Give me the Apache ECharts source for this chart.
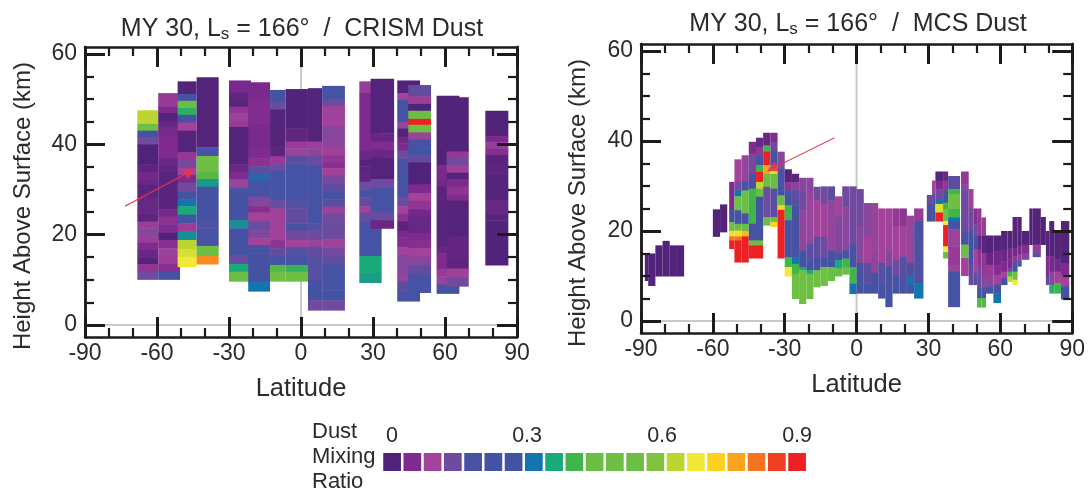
<!DOCTYPE html>
<html><head><meta charset="utf-8">
<style>html,body{margin:0;padding:0;background:#fff}#c{width:1088px;height:493px}canvas{filter:blur(0.45px)}</style>
<script src="https://cdn.jsdelivr.net/npm/echarts@6/dist/echarts.min.js"></script>
</head><body><div id="c"></div>
<script>
// Colour bins of the legend, and their mixing ratio values
const legendColors=['#4f2379','#7f2a8e','#a3429a','#6f4a9f','#4752a3','#4552a3','#4154a3','#1474ad','#19a97b','#3fb54a','#6abd45','#6fbf44','#6dbe45','#81c341','#bdd531','#f1e837','#fdd022','#faa31f','#f57322','#f04023','#ed2024'];
const binWidth=0.045;
const legendTicks=[0,0.3,0.6,0.9];
const majorKm=[0,20,40,60];
const minorKm=[5,10,15,25,30,35,45,50,55];
// Each column: [latLo, latHi, topKm, [[bottomKm, dust level in bins], ...]]
const crismColumns=[
[-68.2,-59.5,47.5,[[44.5,14],[43,11],[41.5,4.5],[40,3],[35.6,0],[33.9,.3],[32.5,.7],[31,.6],[28.4,.2],[24.7,.5],[22.9,.3],[21.4,1.8],[19.6,2.6],[18.2,1.8],[16.6,1],[15,.5],[13.5,.1],[11.8,1.5],[10.1,3]]],
[-59.5,-50.4,51.3,[[48.3,1.7],[46.9,1],[45.2,.1],[43.8,.5],[42.1,.8],[38.7,1],[37.1,1],[35.6,.6],[34.2,.4],[25.6,.2],[24,.8],[22.3,1.3],[20.4,1],[18.8,.05],[17,1.2],[15.3,2.2],[13.5,1.8],[11.8,1.2],[10.1,5]]],
[-51.4,-43.5,53.9,[[51.1,.1],[49.6,4.6],[48,10],[46.5,8.5],[44.8,4],[43,2],[38.2,.1],[36.5,1.6],[34.8,2.8],[33.2,2],[31.5,1],[29.5,3],[27.8,4.5],[26.3,7],[24.4,8],[22.5,4.5],[20.7,1.8],[18.8,7.5],[16.8,14],[15.1,14.5],[12.9,15]]],
[-43.5,-34.3,54.8,[[39.3,.1],[37.4,4.5],[33.9,11],[32.3,9.5],[30.6,7.7],[22.9,4.8],[21.4,3.7],[17.5,4.2],[15.3,11],[13.5,17.5]]],
[-30,-20.8,54.1,[[51.4,.9],[50,.4],[48.3,.2],[46.9,1.5],[45.2,2.2],[43.8,1.7],[35.6,.1],[33.9,.6],[32.3,1],[30.3,2.2],[28.4,4],[23.2,4.8],[21.4,7.5],[15.5,4.8],[13.5,3.2],[11.8,8],[9.7,10]]],
[-22,-12.9,53.7,[[49.8,.9],[44.6,1.1],[38.7,.9],[36.9,1],[35.1,1.3],[33.4,3.6],[31.7,6.5],[28.4,4.5],[26.3,2.7],[24.9,1.2],[22.9,2],[21,3.2],[19.2,2.7],[17.7,2],[15.9,4.2],[9.6,4.8],[7.5,7]]],
[-12.9,-6.4,52,[[49.4,4.5],[47.7,3.2],[39.5,.1],[37.3,.3],[35.6,1.7],[34.2,3],[27.7,4.5],[25.8,3.2],[18.8,1.9],[17,1.4],[15.3,3.3],[13.3,4.5],[11.8,9.5],[9.7,11]]],
[-6.4,2.9,52.2,[[43.5,.05],[40.6,.4],[39.1,1.7],[37.4,2.2],[35.8,3.5],[27.7,4.6],[25.8,3.7],[22.5,3.3],[20.9,4.2],[18.8,3],[17.3,2],[15.1,3.7],[13.3,4.5],[11.8,8.7],[9.7,10.5]]],
[2.9,8.8,52.4,[[40.6,.1],[39.1,1.8],[37.6,2.4],[35.4,3.2],[22.5,4.6],[20.7,3.6],[18.8,3],[17.3,2.2],[15.3,3.3],[10,3.6],[5.5,4.8],[3.3,3]]],
[8.8,18.3,52.9,[[50,4.6],[48.5,3.2],[45.8,2.1],[43.9,2],[41,2.6],[39.5,2.5],[37.6,1.9],[36.2,1.5],[34.7,1.2],[33,1.9],[31.2,2.8],[29.5,3.5],[27.8,4.5],[26.2,3.5],[24.6,2.2],[22.7,3],[20.9,3.2],[19,3],[17.2,2.2],[15.3,2.9],[13.7,3.3],[7.7,4.7],[5.5,5.5],[3.3,3]]],
[24.3,33.6,53.9,[[51.3,1.7],[38.7,1],[36.7,.5],[35.1,.1],[33.4,.3],[31.7,.4],[30,3],[28.3,4.5],[26.3,3.3],[24.9,2],[22.9,3.2],[15.3,4.6],[11.4,8],[9.4,7.8]]],
[29,38.8,54.5,[[42.4,.1],[40.6,.5],[38.9,1.1],[37.1,.6],[32.3,.1],[30.3,3],[25.1,4.6],[23.2,3.2],[21.4,.6]]],
[40.1,49.6,54.1,[[51.3,.05],[49.8,2],[45,4.6],[43.5,2.2],[41.7,.1],[40.2,.7],[38.6,1],[36.9,3],[28.4,4.6],[26.3,3.2],[24.6,2],[22.9,1.3],[20.9,.2],[19.4,.9],[17.3,1.1],[15.5,2],[11.4,2.6],[9.6,2.3],[7.5,3.5],[5.3,4.6]]],
[44.7,54.2,53.1,[[50.6,3.3],[48.9,1.8],[47.4,0],[45.6,10.5],[44.3,20],[42.6,11],[41,2.2],[39.3,4],[37.6,6],[36,3.3],[31.1,0],[29.2,1],[27.5,2],[25.6,1.5],[24,.7],[20.4,.5],[18.8,1],[17,1.2],[15.1,2],[13.1,2.6],[11.2,3.3],[7.2,4.6]]],
[56.5,66,50.7,[[35.4,.05],[32.5,.9],[30.6,.7],[17.3,.2],[15.9,.5],[12.5,1],[10.8,1.7],[8.9,2.3],[7,4.6]]],
[60.7,69.9,50.4,[[38.4,.05],[37.1,1.6],[35.4,3],[33.7,1.9],[32.3,.1],[30.6,1],[28.8,1.4],[27.5,1],[19.6,.1],[14.4,.4],[12.5,.3],[10.6,1.9],[8.6,3]]],
[76.8,86.4,47.4,[[41.8,.05],[40.6,.9],[39.1,1.7],[37.6,1.2],[35.4,.2],[33.6,.3],[27.7,.1],[24.7,.5],[23.2,.2],[13.3,.05]]]
];
const mcsColumns=[
[-88.4,-87,15,[[9,.05]]],
[-87,-84,15,[[7.9,.05]]],
[-84,-81,16.8,[[10,.05]]],
[-81,-78,17.8,[[10,.05]]],
[-78,-75,16.8,[[10,.05]]],
[-75,-72,16.8,[[10,.05]]],
[-60,-57,24.8,[[18.8,.1]]],
[-57,-54,25.9,[[19.8,.1]]],
[-53.2,-51,30.9,[[24.6,1],[22,6],[20,11],[18.8,15.5],[17.9,18],[16.1,20]]],
[-51,-48,35.9,[[30.9,2],[29,3],[27.7,7],[25,11.5],[24.6,10],[21.6,4.5],[20.1,10],[18.8,15.5],[17.9,18],[13.1,20]]],
[-48,-45,36.8,[[30.9,2.3],[29,4.5],[25,12],[23.9,10],[21.6,4.5],[20,10],[18.8,16.5],[13.1,20]]],
[-45,-42,39.8,[[37.2,1],[32.7,2.8],[29.4,4.5],[21.6,9],[17.9,4.7],[16.8,10],[14,20]]],
[-42,-39,40.7,[[38.7,.5],[36.8,1.5],[34.6,4.5],[33.1,9],[30.9,20],[29.4,14],[27.6,10],[17.9,4.3],[16.8,10],[14,20]]],
[-39,-36,41.8,[[39,.5],[37.6,9],[34.6,20],[32.7,17],[29.8,11],[23.1,3],[21.3,10]]],
[-36,-33,41.8,[[39.8,1],[37.6,3],[34.6,5],[33.9,9],[32.7,15],[29.4,10],[23.1,3.5],[22,10],[21,16]]],
[-33,-30,37.6,[[33.9,2.5],[29,4.5],[27.9,6],[25.7,10],[24.7,16],[14,20]]],
[-30,-27,33.7,[[30.9,.2],[29,1.5],[25.7,4.5],[22.4,9],[14.2,4.5],[12,9],[10,15]]],
[-27,-24,32.7,[[30.9,.3],[29,2.5],[25.7,3.5],[23.1,4.8],[14.2,4],[12.7,7],[10.5,9],[5,11]]],
[-24,-21,31.8,[[29,2.5],[24.6,3],[15.7,2.4],[12,4.5],[11.3,8],[3.9,11]]],
[-21,-18,31.8,[[28.3,2.5],[22.4,2.2],[17.2,2.2],[13.5,3.5],[11.3,5],[10.5,8],[5,12]]],
[-18,-15,29.8,[[26.8,3],[18.7,2],[14.2,3.5],[11.3,5],[7.6,11]]],
[-15,-12,29.9,[[26.1,3],[18.7,2],[14.2,3],[12,4.7],[7.9,11]]],
[-12,-9,29.9,[[26.8,3.5],[15.7,2.3],[13.5,4],[12,6],[9,10]]],
[-9,-6,27.7,[[23.1,2],[15,2.7],[13.5,4.5],[11.7,8],[10,10]]],
[-6,-3,29.9,[[25.3,3],[15.7,2.5],[13.9,4.5],[11.9,9],[10.4,10]]],
[-3,0,29.9,[[17.2,3],[12,4.5],[8.3,9],[6.1,7]]],
[0,3,29.3,[[21.1,3],[12.9,2.5],[8.4,4],[6.2,4.8]]],
[3,6,26.2,[[18.9,2.5],[12.9,2],[8.4,3.5],[6.2,4.6]]],
[6,9,26.2,[[15.9,2.2],[10.7,2.4],[6.9,4],[6.2,4.6]]],
[9,12,25,[[17.4,2],[12.9,2],[8.4,3.6],[5.1,4.6]]],
[12,15,25,[[15.9,2],[12.2,2.6],[8.4,4],[3.2,4.6]]],
[15,18,25,[[21.1,1.6],[13.7,2],[9.9,3],[6.2,4.6]]],
[18,21,25,[[21.1,1.4],[14.4,2],[9.9,3.5],[6.2,4.6]]],
[21,24,23.4,[[12.9,2.2],[9.9,3.8],[8.1,7],[6.2,4.6]]],
[24,27.9,25,[[22.2,1.7],[18.9,4],[8.4,3.8],[5.1,7]]],
[29.3,31.5,28,[[26,3],[22.2,4.5]]],
[31.5,32.9,31.2,[[28.2,2],[26,3.5],[24.1,4.8],[22.2,6]]],
[32.9,36.1,33.2,[[31.2,.2],[29.3,1],[27.1,3],[26,7],[24.1,14.5],[22.2,20]]],
[36.1,38.2,33.2,[[31.2,.5],[29,1.5],[26.3,5],[24.9,9],[22.2,12],[21.3,15],[16.6,20],[15.3,15],[14,10]]],
[38.2,43.2,32.2,[[29.3,3.5],[28.2,9],[24.9,11],[23,9],[22.2,7],[20.4,4.5],[16.6,2.2],[12.5,1.7],[11,2.2],[3.2,4.6]]],
[43.6,46.8,33.2,[[30.4,1.6],[29.3,2.5],[19.6,3],[17,4.3],[14,10],[10.1,2]]],
[46.8,48.8,29.3,[[24.9,2],[20.4,3],[17.4,4.5],[15.1,6],[12.2,4],[8.1,3.3]]],
[48.8,50.3,25,[[21.5,1.2],[18.9,3],[15.9,4.5],[10.7,2],[8.1,3.5]]],
[50.3,52.1,25,[[18.9,1.6],[15.9,.5],[12.2,1.4],[7.3,3],[5.1,4.6],[3.1,9.5]]],
[52.1,54,23,[[18.9,1.7],[15.1,.2],[9.9,1.5],[7.3,2.6],[5.1,4.6],[3.1,9.5]]],
[54,57.1,19,[[15.1,.1],[12.5,.6],[9.9,1.7],[7.7,2.5],[6.2,4.6]]],
[57.1,60.3,19,[[15.5,.1],[12.5,.7],[10.3,1.2],[8.1,2],[6.2,4.5],[4.1,7]]],
[60.3,63,20,[[15.9,.1],[13.3,.6],[11,1],[9.6,2],[8.1,4.4]]],
[63,65.1,20,[[16.3,.1],[13.7,.8],[11.8,1],[11,3],[9.9,9],[8.8,14]]],
[65.1,67.2,23.1,[[16.3,.1],[14.4,.8],[13.3,1.5],[11,4],[9.2,11],[8.1,15]]],
[67.2,68.9,23.1,[[16.6,.1],[14.8,1],[13.3,2.5],[12.2,4.5]]],
[68.9,72.1,20,[[17,.1],[15.1,1.1],[13.7,2.5]]],
[72.1,73.5,25,[[17,.05]]],
[73.5,76.9,25,[[17,.1],[15.3,1.7],[14.3,3.5]]],
[76.9,79,23.1,[[17,.1]]],
[79,80.4,20,[[14.4,.2],[9.9,1.1],[8.1,3.5]]],
[80.4,82.5,22.2,[[14.4,.1],[11,.8],[8.1,2.5],[6.2,8.5]]],
[82.5,85.3,20,[[13.7,.1],[11,.7],[8.4,2],[6.2,9]]],
[85.3,88.8,22.2,[[12.9,.1],[10.3,1],[7.7,2],[4.9,4.6]]]
];
const crismArrow=[[-73.3,26.3],[-46.3,33.9]];
const mcsArrow=[[-9.2,40.7],[-35.4,33.8]];
const xRange=[-90,90], yRange=[-2.65,61.5];

function cells(cols){
  const out=[];
  cols.forEach(c=>{let top=c[2];c[3].forEach(r=>{out.push([c[0],c[1],r[0],top,r[1]]);top=r[0];});});
  return out;
}
function renderCell(params,api){
  const p0=api.coord([api.value(0),api.value(3)]);
  const p1=api.coord([api.value(1),api.value(2)]);
  const lvl=api.value(4);
  return {type:'rect',shape:{x:p0[0],y:p0[1],width:p1[0]-p0[0],height:p1[1]-p0[1]+0.5},
    style:{fill:echarts.color.lerp(lvl/20,legendColors)}};
}
const ink='#1c1a1b', txt='#2b2b2b', font='"Liberation Sans",Arial,sans-serif';
const labelStyle={fontFamily:font,fontSize:23,color:txt};
const lineAxis={show:true,onZero:false,lineStyle:{color:ink,width:2.5}};
function xAxes(g){
  const base={type:'value',gridIndex:g,z:5,min:xRange[0],max:xRange[1],interval:30,splitLine:{show:false},axisLine:lineAxis,
    axisTick:{show:true,inside:true,length:20,lineStyle:{color:ink,width:3}},
    minorTick:{show:true,splitNumber:3,length:9,lineStyle:{color:ink,width:2.2}}};
  return [Object.assign({},base,{position:'bottom',axisLabel:Object.assign({margin:5,showMinLabel:true,showMaxLabel:true,hideOverlap:false},labelStyle),
      name:'Latitude',nameLocation:'middle',nameGap:39,nameTextStyle:{fontFamily:font,fontSize:25.5,color:txt}}),
    Object.assign({},base,{position:'top',axisLabel:{show:false}})];
}
function yAxes(g){
  const base={type:'value',gridIndex:g,z:5,min:yRange[0],max:yRange[1],splitLine:{show:false},axisLine:lineAxis};
  const maj={show:true,inside:true,length:20,customValues:majorKm,lineStyle:{color:ink,width:3}};
  const min={show:true,inside:true,length:9,customValues:minorKm,lineStyle:{color:ink,width:2.2}};
  return [Object.assign({},base,{position:'left',axisTick:maj,axisLabel:Object.assign({customValues:majorKm,margin:8,padding:[3,0,0,0]},labelStyle)}),
    Object.assign({},base,{position:'right',axisTick:maj,axisLabel:{show:false}}),
    Object.assign({},base,{position:'left',axisTick:min,axisLabel:{show:false}}),
    Object.assign({},base,{position:'right',axisTick:min,axisLabel:{show:false}})];
}
function panelSeries(cols,arrow,g){
  const xi=g*2, yi=g*4;
  return [
   {type:'line',xAxisIndex:xi,yAxisIndex:yi,silent:true,symbol:'none',z:1,lineStyle:{color:'#c9c9c9',width:2},data:[[0,yRange[0]],[0,yRange[1]]]},
   {type:'line',xAxisIndex:xi,yAxisIndex:yi,silent:true,symbol:'none',z:1,lineStyle:{color:'#c9c9c9',width:2},data:[[xRange[0],0],[xRange[1],0]]},
   {type:'custom',xAxisIndex:xi,yAxisIndex:yi,silent:true,z:2,renderItem:renderCell,clip:true,encode:{x:[0,1],y:[2,3]},data:cells(cols)},
   {type:'lines',coordinateSystem:'cartesian2d',xAxisIndex:xi,yAxisIndex:yi,silent:true,z:6,symbol:['none','triangle'],symbolSize:[0,11],
     lineStyle:{color:'#e8344f',width:1.2,opacity:.9,curveness:0},data:[{coords:arrow}]}
  ];
}
const legendCells=legendColors.map((c,i)=>[i*binWidth,i]);
const legendXAxis={type:'value',gridIndex:2,min:-0.018,max:0.922,position:'top',splitLine:{show:false},axisLine:{show:false},axisTick:{show:false},
  axisLabel:Object.assign({customValues:legendTicks,margin:6},labelStyle,{fontSize:21.5})};
const legendYAxis={type:'value',gridIndex:2,min:0,max:1,show:false};
function titleText(t){return '{a|MY 30, L}{s|s}{a| = 166°  /  '+t+'}';}
function titleOpt(t,x,y){return {text:titleText(t),left:x,top:y,textAlign:'center',textStyle:{rich:{
  a:{fontFamily:font,fontSize:25,color:txt,fontWeight:'normal'},s:{fontFamily:font,fontSize:17,color:txt,fontWeight:'normal',verticalAlign:'bottom',padding:[10,0,0,0]}}}};}
const option={
  animation:false,backgroundColor:'#fff',
  title:[titleOpt('CRISM Dust',297,11),titleOpt('MCS Dust',853,6),
    {text:'Dust\nMixing\nRatio',left:307,top:414,textStyle:{fontFamily:font,fontSize:22,color:txt,fontWeight:'normal',lineHeight:25}}],
  grid:[{left:85,top:47,width:432,height:290},{left:641,top:44,width:432,height:289},{left:384,top:453,width:423,height:18}],
  xAxis:[...xAxes(0),...xAxes(1),legendXAxis],
  yAxis:[...yAxes(0),...yAxes(1),legendYAxis],
  graphic:[
    {type:'text',x:23,y:206,rotation:Math.PI/2,style:{text:'Height Above Surface (km)',fontFamily:font,fontSize:24,fill:txt,align:'center',verticalAlign:'middle'}},
    {type:'text',x:578,y:203,rotation:Math.PI/2,style:{text:'Height Above Surface (km)',fontFamily:font,fontSize:24,fill:txt,align:'center',verticalAlign:'middle'}}
  ],
  series:[...panelSeries(crismColumns,crismArrow,0),...panelSeries(mcsColumns,mcsArrow,1),
    {type:'custom',xAxisIndex:4,yAxisIndex:8,silent:true,data:legendCells,encode:{x:0},
     renderItem(params,api){
       const w=binWidth*0.875/2, x=api.value(0);
       const p0=api.coord([x-w,1]), p1=api.coord([x+w,0]);
       return {type:'rect',shape:{x:p0[0],y:p0[1],width:p1[0]-p0[0],height:p1[1]-p0[1]},style:{fill:legendColors[api.value(1)]}};
     }}
  ]
};
echarts.init(document.getElementById('c'),null,{renderer:'canvas'}).setOption(option);
</script></body></html>
